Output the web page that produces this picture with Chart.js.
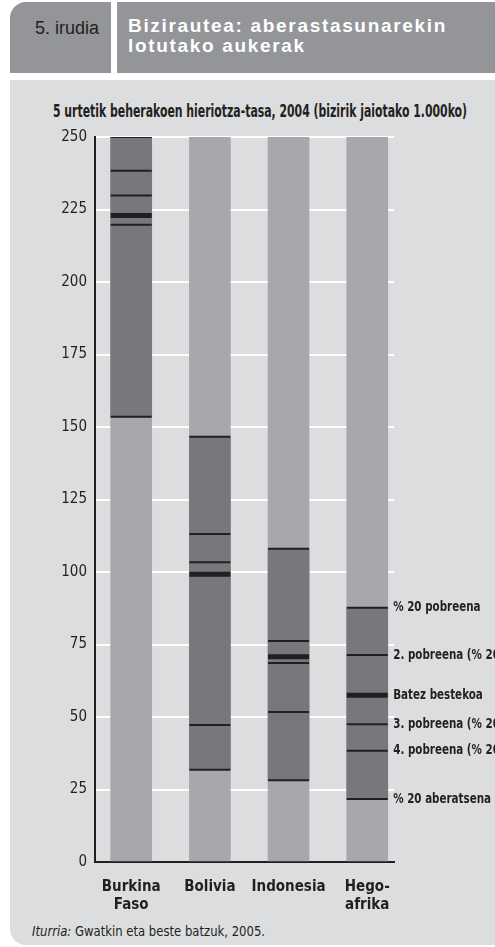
<!DOCTYPE html>
<html>
<head>
<meta charset="utf-8">
<script src="https://cdn.jsdelivr.net/npm/chart.js@4"></script>
<style>
  body { margin: 0; background: #fff; width: 495px; height: 947px; overflow: hidden; position: relative; }
  .tab { position: absolute; top: 2px; height: 71px; background: #939598; }
  #tab1 { left: 10px; width: 101px; border-top-left-radius: 16px; }
  #tab2 { left: 117px; width: 378px; }
  #tab1 span { position: absolute; left: 25px; top: 16px; font-family: 'Liberation Sans', Arial, sans-serif; font-size: 18px; color: #231f20; white-space: nowrap; }
  #tab2 div { position: absolute; left: 11px; font-family: 'Liberation Sans', Arial, sans-serif; font-weight: bold; font-size: 19px; line-height: 20px; color: #fff; white-space: nowrap; }
  #panel { position: absolute; left: 10px; top: 80px; width: 485px; height: 865px; background: #dcdddf; border-bottom-left-radius: 16px; }
  .fit { position: absolute; white-space: nowrap; transform-origin: 0 50%; color: #231f20; font-family: 'DejaVu Sans Condensed', 'Liberation Sans', sans-serif; }
  #sub { left: 53px; top: 101px; font-weight: bold; font-size: 17px; }
  #src { left: 32px; top: 923px; font-size: 14px; }
  canvas { position: absolute; left: 0; top: 0; }
</style>
</head>
<body>
<div class="tab" id="tab1"><span>5. irudia</span></div>
<div class="tab" id="tab2"><div id="t1" style="top:14px">Bizirautea: aberastasunarekin</div><div id="t2" style="top:34px">lotutako aukerak</div></div>
<div id="panel"></div>
<div class="fit" id="sub" data-w="414">5 urtetik beherakoen hieriotza-tasa, 2004 (bizirik jaiotako 1.000ko)</div>
<div class="fit" id="src" data-w="233"><i>Iturria:</i> Gwatkin eta beste batzuk, 2005.</div>
<canvas id="chart" width="495" height="947"></canvas>
<script>
// datuak
var countries = ['Burkina Faso', 'Bolivia', 'Indonesia', 'Hego-afrika'];
var tickLabels = [['Burkina', 'Faso'], 'Bolivia', 'Indonesia', ['Hego-', 'afrika']];
var poorest = [250, 146.6, 108, 87.7];
var second = [238.4, 113.1, 76.2, 71.4];
var third = [229.8, 103.4, 68.6, 47.5];
var fourth = [219.7, 47.2, 51.7, 38.4];
var richest = [153.5, 31.8, 28.2, 21.7];
var average = [222.9, 99.2, 70.8, 57.5];
var seriesNames = ['% 20 pobreena', '2. pobreena (% 20)', 'Batez bestekoa', '3. pobreena (% 20)', '4. pobreena (% 20)', '% 20 aberatsena'];
var yMax = 250;
var yStep = 25;

// testu estuak zabalerara egokitu
document.querySelectorAll('.fit').forEach(function (el) {
    var w = el.getBoundingClientRect().width;
    el.style.transform = 'scaleX(' + (el.dataset.w / w) + ')';
});
// izenburuaren letra-tartea (lehen lerroa ~319px)
var t1 = document.getElementById('t1');
var ls = (319 - t1.getBoundingClientRect().width) / t1.textContent.length;
document.getElementById('t1').style.letterSpacing = ls + 'px';
document.getElementById('t2').style.letterSpacing = ls + 'px';

var narrow = "'DejaVu Sans Condensed', 'Liberation Sans', sans-serif";
var ink = '#231f20';
var series = [poorest, second, average, third, fourth, richest];

function pts(arr) {
    return arr.map(function (v, i) { return { x: i, y: v }; });
}

var datasets = [];
series.forEach(function (s, k) {
    datasets.push({
        type: 'line',
        label: seriesNames[k],
        data: pts(s),
        showLine: false,
        pointStyle: 'line',
        pointRadius: 20.5,
        pointBorderWidth: s === average ? 5 : 2,
        pointBorderColor: ink,
        order: 0
    });
});
datasets.push({
    label: 'tartea',
    data: countries.map(function (c, i) {
        var vals = series.map(function (s) { return s[i]; });
        return { x: i, y: [Math.min.apply(null, vals), Math.max.apply(null, vals)] };
    }),
    backgroundColor: '#77787b',
    grouped: false,
    barThickness: 41,
    order: 1
});
datasets.push({
    label: 'atzealdea',
    data: countries.map(function (c, i) { return { x: i, y: [0, yMax] }; }),
    backgroundColor: '#a7a8ab',
    grouped: false,
    barThickness: 41,
    order: 2
});

// eskuineko etiketak, azken herrialdeko lerroen ondoan (letra estua)
var sideLabels = {
    id: 'sideLabels',
    afterDatasetsDraw: function (chart) {
        var c = chart.ctx, y = chart.scales.y, x = chart.scales.x;
        var last = countries.length - 1;
        var px = x.getPixelForValue(last) + 26;
        c.save();
        c.font = 'bold 14px ' + narrow;
        c.fillStyle = ink;
        c.textBaseline = 'middle';
        series.forEach(function (s, k) {
            c.save();
            c.translate(px, y.getPixelForValue(s[last]));
            c.scale(0.82, 1);
            c.fillText(seriesNames[k], 0, 0);
            c.restore();
        });
        c.restore();
    }
};

var ctx = document.getElementById('chart').getContext('2d');
var chart = new Chart(ctx, {
    type: 'bar',
    data: { datasets: datasets },
    options: {
        responsive: false,
        animation: false,
        events: [],
        layout: { padding: { top: 137, left: 0, right: 101, bottom: 0 } },
        plugins: { legend: { display: false }, tooltip: { enabled: false } },
        scales: {
            x: {
                type: 'linear',
                offset: false,
                min: -0.46,
                max: 3.34,
                afterBuildTicks: function (axis) {
                    axis.ticks = countries.map(function (c, i) { return { value: i }; });
                },
                afterFit: function (axis) { axis.height = 85; },
                grid: { display: false, drawTicks: false },
                border: { display: true, color: ink, width: 2 },
                ticks: {
                    padding: 16,
                    maxRotation: 0,
                    autoSkip: false,
                    color: ink,
                    font: { family: narrow, size: 15, weight: 'bold', lineHeight: 1.2 },
                    callback: function (v) { return tickLabels[v]; }
                }
            },
            y: {
                min: 0,
                max: yMax,
                afterFit: function (axis) { axis.width = 95; },
                grid: { color: '#ffffff', lineWidth: 2, drawTicks: false },
                border: { display: true, color: ink, width: 2 },
                ticks: {
                    stepSize: yStep,
                    padding: 8,
                    color: ink,
                    font: { family: narrow, size: 15 }
                }
            }
        }
    },
    plugins: [sideLabels]
});
</script>
</body>
</html>
